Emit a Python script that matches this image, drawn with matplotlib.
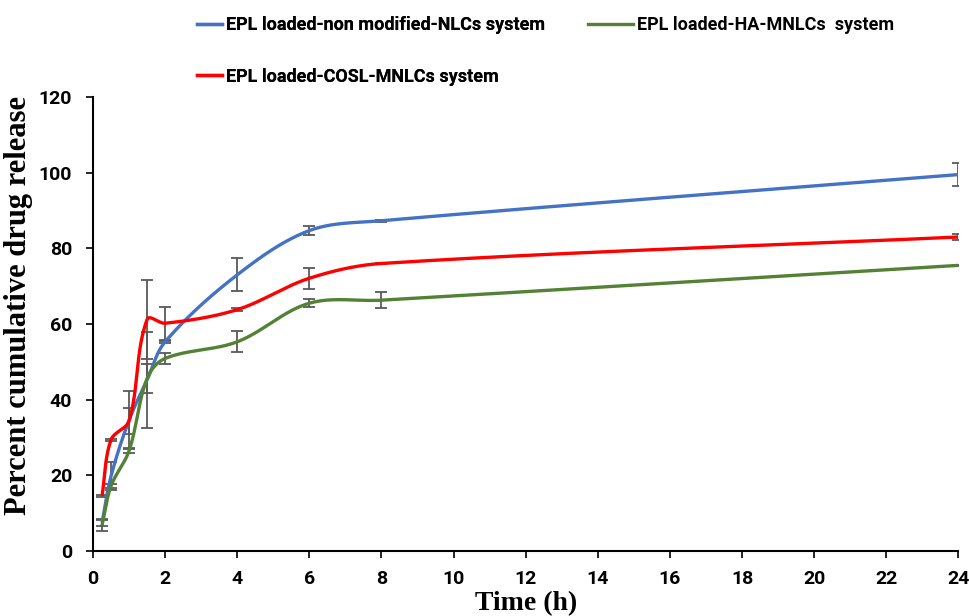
import numpy as np
import matplotlib
matplotlib.use("Agg")
import matplotlib.pyplot as plt
from matplotlib.lines import Line2D

# ---- data ----
time_h = [0.25, 0.5, 1, 1.5, 2, 4, 6, 8, 24]
nlc = [7.5, 19.8, 34.6, 45.2, 55.3, 73.0, 84.7, 87.3, 99.5]
nlc_err = [1.0, 3.6, 7.7, 12.8, 0.3, 4.4, 1.3, 0.3, 3.1]
ha = [6.8, 17.2, 26.5, 45.6, 50.9, 55.3, 65.5, 66.3, 75.5]
ha_err = [1.5, 0.6, 0.6, 3.8, 1.5, 2.8, 1.1, 2.1, 0.2]
cosl = [14.6, 29.4, 34.4, 61.2, 60.2, 63.8, 72.1, 76.0, 83.0]
cosl_err = [0.3, 0.3, 3.5, 10.4, 4.4, 0.4, 2.8, 0.2, 0.75]

labels = ["EPL loaded-non modified-NLCs system",
          "EPL loaded-HA-MNLCs  system",
          "EPL loaded-COSL-MNLCs system"]
colors = ["#4472C4", "#548235", "#FF0000"]
xticks = list(range(0, 25, 2))
yticks = list(range(0, 121, 20))

tick_font = ["Roboto", "DejaVu Sans"]
label_font = ["Liberation Serif", "DejaVu Serif"]

fig = plt.figure(figsize=(9.7, 6.16), dpi=100)
ax = fig.add_axes([0.0959, 0.1055, 0.8921, 0.737])
ax.set_xlim(0, 24)
ax.set_ylim(0, 120)


def smooth(x, y, n=40):
    """Excel-like smoothed line: Bezier segments with tangents scaled per segment (display space)."""
    P = ax.transData.transform(np.column_stack([x, y]).astype(float))
    m = len(P)
    T = np.zeros_like(P)
    for i in range(m):
        a = P[max(i - 1, 0)]
        b = P[min(i + 1, m - 1)]
        d = b - a
        T[i] = d / np.hypot(*d)
    out = []
    t = np.linspace(0, 1, n)[:, None]
    for i in range(m - 1):
        p1, p2 = P[i], P[i + 1]
        L = np.hypot(*(p2 - p1))
        c1 = p1 + T[i] * L / 3.0
        c2 = p2 - T[i + 1] * L / 3.0
        seg = ((1 - t) ** 3) * p1 + 3 * ((1 - t) ** 2) * t * c1 + 3 * (1 - t) * t ** 2 * c2 + t ** 3 * p2
        out.append(seg if i == 0 else seg[1:])
    S = ax.transData.inverted().transform(np.vstack(out))
    return S[:, 0], S[:, 1]


series = [(nlc, nlc_err), (ha, ha_err), (cosl, cosl_err)]
handles = []
for (vals, errs), col, lab in zip(series, colors, labels):
    xs, ys = smooth(time_h, vals)
    ax.errorbar(time_h, vals, yerr=errs, fmt="none", ecolor="#595959",
                elinewidth=1.3, capsize=4, capthick=1.3, zorder=2)
    ax.plot(xs, ys, color=col, lw=2.4, zorder=3, solid_capstyle="butt")
    handles.append(Line2D([], [], color=col, lw=2.4, label=lab))

ax.set_xticks(xticks)
ax.set_yticks(yticks)
for s in ["top", "right"]:
    ax.spines[s].set_visible(False)
for s in ["left", "bottom"]:
    ax.spines[s].set_linewidth(1.5)
    ax.spines[s].set_color("black")
ax.tick_params(axis="both", direction="out", length=5, width=1.2, colors="black")
ax.tick_params(axis="y", pad=10)
ax.tick_params(axis="x", pad=9)
for lbl in ax.get_xticklabels() + ax.get_yticklabels():
    lbl.set_fontfamily(tick_font)
    lbl.set_fontweight("bold")
    lbl.set_fontsize(14)

ax.set_xlabel("Time (h)", fontfamily=label_font, fontweight="bold", fontsize=20, labelpad=2)
ax.set_ylabel("Percent cumulative drug release", fontfamily=label_font,
              fontweight="bold", fontsize=22)
ax.yaxis.set_label_coords(-0.069, 0.541)

prop = {"family": tick_font, "weight": "bold", "size": 13}
leg1 = fig.legend(handles=[handles[0], handles[2]], loc="center left",
                  bbox_to_anchor=(197 / 970, 1 - 51 / 616), frameon=False,
                  borderpad=0, borderaxespad=0, handlelength=1.4, handletextpad=0.2,
                  labelspacing=1.85, prop=prop)
leg2 = fig.legend(handles=[handles[1]], loc="center left",
                  bbox_to_anchor=(588 / 970, 1 - 25 / 616), frameon=False,
                  borderpad=0, borderaxespad=0, handlelength=2.5, handletextpad=0.2, prop=prop)
fig.add_artist(leg1)

fig.savefig("out.png", dpi=100)
